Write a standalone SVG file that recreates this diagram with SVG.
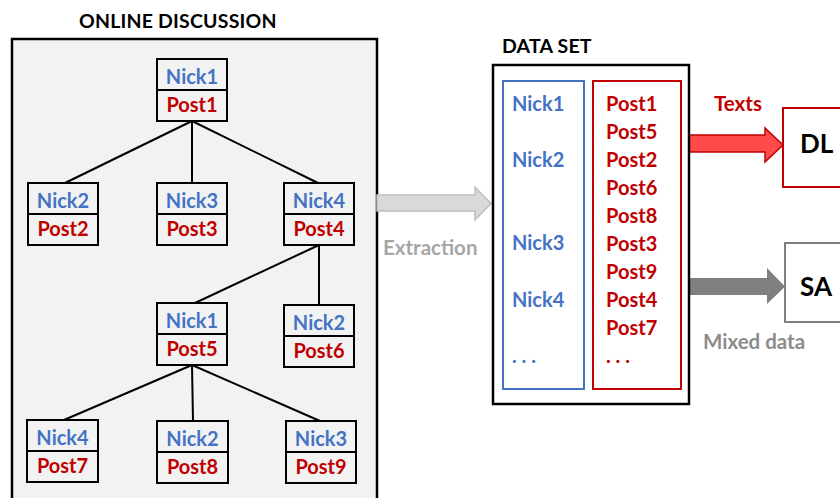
<svg xmlns="http://www.w3.org/2000/svg" width="840" height="498" viewBox="0 0 840 498">
<defs>
<style>
text{font-family:Lato,"Open Sans","Liberation Sans",sans-serif;font-weight:bold}
.nb{fill:#f2f2f2;stroke:#000;stroke-width:2}
.nick{fill:#4472c4;font-size:20px;text-anchor:middle}
.post{fill:#c00000;font-size:20px;text-anchor:middle}
.dn{fill:#4472c4;font-size:20px}
.dp{fill:#c00000;font-size:20px}
.title{fill:#000;font-size:19.5px;letter-spacing:0.2px}
.lbl{font-size:20.5px}
.edge{stroke:#000;stroke-width:2;fill:none}
</style>
</defs>
<rect width="840" height="498" fill="#fff"/>
<text class="title" x="79" y="28">ONLINE DISCUSSION</text>
<rect x="12" y="39" width="365" height="480" fill="#f2f2f2" stroke="#000" stroke-width="2.5"/>
<g id="connectors">
<line class="edge" x1="192" y1="121" x2="65" y2="183"/>
<line class="edge" x1="192" y1="121" x2="192" y2="183"/>
<line class="edge" x1="192" y1="121" x2="318" y2="183"/>
<line class="edge" x1="319" y1="245" x2="195" y2="303"/>
<line class="edge" x1="319" y1="245" x2="319" y2="305"/>
<line class="edge" x1="192" y1="365" x2="64" y2="420"/>
<line class="edge" x1="192" y1="365" x2="193" y2="421"/>
<line class="edge" x1="192" y1="365" x2="320" y2="421"/>
<path d="M377 195 H475 V187 L491 203.5 L475 220 V211 H377 Z" fill="#d9d9d9" stroke="#bfbfbf" stroke-width="1.5"/>
<path d="M681 135 H765 V128 L783 145 L765 162 V152 H681 Z" fill="#ff4b4b" stroke="#c00000" stroke-width="1.5"/>
<path d="M689 278 H767 V268 L785 286.5 L767 304 V295 H689 Z" fill="#7f7f7f"/>
</g>
<g id="n1"><rect class="nb" x="157" y="59" width="70" height="62"/><line class="edge" x1="157" y1="90" x2="227" y2="90"/><text class="nick" x="192" y="84">Nick1</text><text class="post" x="192" y="112">Post1</text></g>
<g id="n2"><rect class="nb" x="28" y="183" width="70" height="62"/><line class="edge" x1="28" y1="214" x2="98" y2="214"/><text class="nick" x="63" y="208">Nick2</text><text class="post" x="63" y="236">Post2</text></g>
<g id="n3"><rect class="nb" x="157" y="183" width="70" height="62"/><line class="edge" x1="157" y1="214" x2="227" y2="214"/><text class="nick" x="192" y="208">Nick3</text><text class="post" x="192" y="236">Post3</text></g>
<g id="n4"><rect class="nb" x="284" y="183" width="70" height="62"/><line class="edge" x1="284" y1="214" x2="354" y2="214"/><text class="nick" x="319" y="208">Nick4</text><text class="post" x="319" y="236">Post4</text></g>
<g id="n5"><rect class="nb" x="157" y="303" width="70" height="62"/><line class="edge" x1="157" y1="334" x2="227" y2="334"/><text class="nick" x="192" y="328">Nick1</text><text class="post" x="192" y="356">Post5</text></g>
<g id="n6"><rect class="nb" x="284" y="305" width="70" height="62"/><line class="edge" x1="284" y1="336" x2="354" y2="336"/><text class="nick" x="319" y="330">Nick2</text><text class="post" x="319" y="358">Post6</text></g>
<g id="n7"><rect class="nb" x="27" y="420" width="71" height="62"/><line class="edge" x1="27" y1="451" x2="98" y2="451"/><text class="nick" x="62.5" y="445">Nick4</text><text class="post" x="62.5" y="473">Post7</text></g>
<g id="n8"><rect class="nb" x="157" y="421" width="71" height="62"/><line class="edge" x1="157" y1="452" x2="228" y2="452"/><text class="nick" x="192.5" y="446">Nick2</text><text class="post" x="192.5" y="474">Post8</text></g>
<g id="n9"><rect class="nb" x="286" y="421" width="70" height="62"/><line class="edge" x1="286" y1="452" x2="356" y2="452"/><text class="nick" x="321" y="446">Nick3</text><text class="post" x="321" y="474">Post9</text></g>
<text class="lbl" x="383" y="255" fill="#a6a6a6">Extraction</text>
<text class="title" x="502" y="53">DATA SET</text>
<g id="dataset">
<rect x="493" y="65" width="196" height="339" fill="#fff" stroke="#000" stroke-width="2.5"/>
<rect x="503" y="81" width="81" height="308" fill="#fff" stroke="#4472c4" stroke-width="2"/>
<rect x="593" y="81" width="88" height="308" fill="#fff" stroke="#c00000" stroke-width="2"/>
<text class="dn" x="512" y="111">Nick1</text>
<text class="dn" x="512" y="167">Nick2</text>
<text class="dn" x="512" y="250">Nick3</text>
<text class="dn" x="512" y="307">Nick4</text>
<text class="dn" x="512" y="363">. . .</text>
<text class="dp" x="606" y="111">Post1</text>
<text class="dp" x="606" y="139">Post5</text>
<text class="dp" x="606" y="167">Post2</text>
<text class="dp" x="606" y="195">Post6</text>
<text class="dp" x="606" y="223">Post8</text>
<text class="dp" x="606" y="251">Post3</text>
<text class="dp" x="606" y="279">Post9</text>
<text class="dp" x="606" y="307">Post4</text>
<text class="dp" x="606" y="335">Post7</text>
<text class="dp" x="606" y="363">. . .</text>
</g>
<text class="lbl" x="714" y="111" fill="#c00000">Texts</text>
<text class="lbl" x="703" y="349" fill="#8c8c8c">Mixed data</text>
<g id="dl"><rect x="783" y="108" width="70" height="79" fill="#fff" stroke="#c00000" stroke-width="2"/><text x="800" y="153" font-size="26" fill="#000">DL</text></g>
<g id="sa"><rect x="785" y="243" width="70" height="79" fill="#fff" stroke="#7f7f7f" stroke-width="2"/><text x="800" y="296" font-size="26" fill="#000">SA</text></g>
</svg>
